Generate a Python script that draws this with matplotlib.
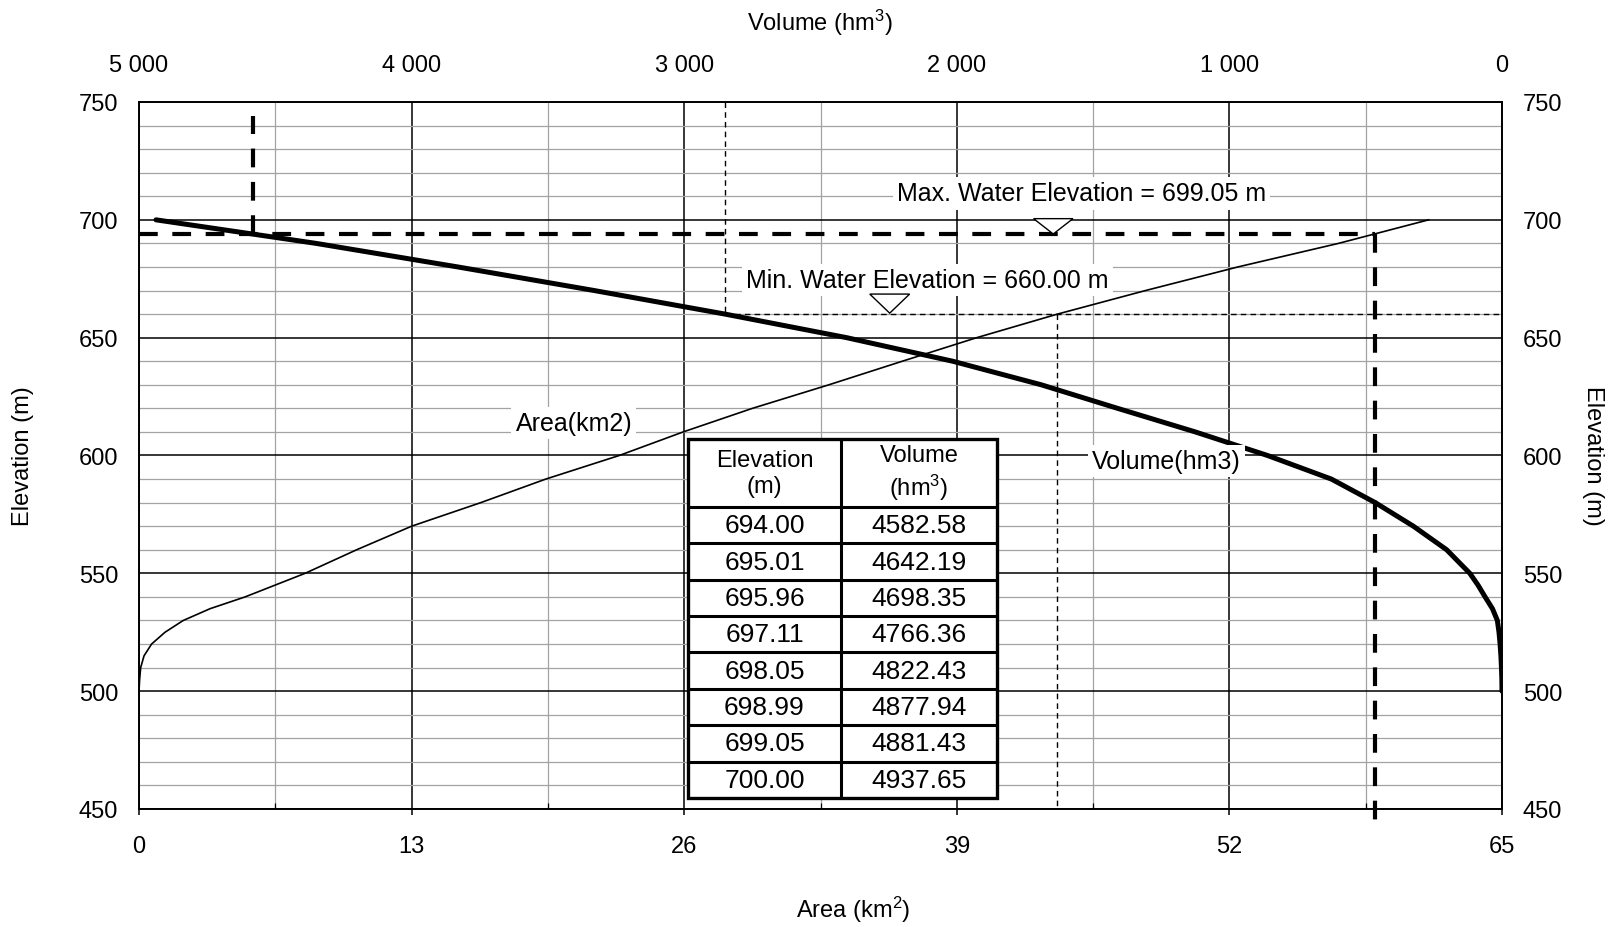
import numpy as np
import matplotlib
matplotlib.use("Agg")
import matplotlib.pyplot as plt
from matplotlib.patches import Rectangle

plt.rcParams['font.family'] = ['Liberation Sans', 'DejaVu Sans']
plt.rcParams['mathtext.fontset'] = 'custom'
plt.rcParams['mathtext.rm'] = 'Liberation Sans'
plt.rcParams['mathtext.it'] = 'Liberation Sans'

# ---------------- data ----------------
elevation = [500, 505, 510, 515, 520, 525, 530, 535, 540, 545, 550, 560, 570, 580,
             590, 600, 610, 620, 630, 640, 650, 660, 670, 680, 690, 700]
area_km2 = [0.0, 0.03, 0.08, 0.24, 0.60, 1.24, 2.11, 3.39, 5.06, 6.49, 7.92, 10.38,
            13.0, 16.3, 19.4, 22.9, 25.95, 29.25, 32.9, 36.4, 39.95, 43.8, 48.0,
            52.4, 57.2, 61.5]
volume_hm3 = [0, 0.5, 2, 4, 7, 11, 17, 35, 62, 88, 118, 203, 325, 465, 626, 860,
              1125, 1410, 1690, 2015, 2404, 2850, 3330, 3830, 4350, 4937.65]

table_elevation = ["694.00", "695.01", "695.96", "697.11", "698.05", "698.99", "699.05", "700.00"]
table_volume = ["4582.58", "4642.19", "4698.35", "4766.36", "4822.43", "4877.94", "4881.43", "4937.65"]

area_ticks = [0, 13, 26, 39, 52, 65]
volume_ticks = [5000, 4000, 3000, 2000, 1000, 0]

max_level_label = "Max. Water Elevation = 699.05 m"
min_level_label = "Min. Water Elevation = 660.00 m"
design_level = 694.0      # level of thick dashed guide
min_level = 660.0         # minimum operating level

# ---------------- figure ----------------
W, H = 1617, 928
fig = plt.figure(figsize=(W / 100, H / 100), dpi=100)
ax = fig.add_axes([139 / W, (H - 810) / H, 1363 / W, 707 / H])

ax.set_xlim(0, 65)
ax.set_ylim(450, 750)
ax.set_xticks(area_ticks)
ax.set_xticks(np.arange(0, 65.01, 6.5), minor=True)
ax.set_yticks(np.arange(450, 751, 50))
ax.set_yticks(np.arange(450, 751, 10), minor=True)
ax.grid(which='major', color='black', lw=1.1)
ax.grid(which='minor', color='#a3a3a3', lw=0.9)
ax.set_axisbelow(True)
for s in ax.spines.values():
    s.set_color('black')
    s.set_linewidth(1.4)

ax.tick_params(axis='x', which='major', direction='out', length=4.5, width=1.1,
               labelsize=17, pad=14)
ax.tick_params(axis='x', which='minor', direction='in', length=4, width=0.9,
               bottom=True, top=False)
ax.tick_params(axis='y', which='major', length=0, labelsize=17, pad=15,
               labelleft=True, labelright=True, left=True, right=True)
ax.tick_params(axis='y', which='minor', length=0)

# area curve
ax.plot(area_km2, elevation, color='black', lw=1.2, zorder=3)

# top volume axis
ax2 = ax.twiny()
ax2.set_xlim(5000, 0)
ax2.set_xticks(volume_ticks)
ax2.set_xticklabels([f"{v:,}".replace(",", " ") for v in volume_ticks])
ax2.tick_params(axis='x', which='major', length=0, labelsize=17, pad=19)
for s in ax2.spines.values():
    s.set_visible(False)

# volume curve
ax2.plot(volume_hm3, elevation, color='black', lw=3.6, solid_capstyle='round',
         solid_joinstyle='round', zorder=4)

# guide lines
area_design = np.interp(design_level, elevation, area_km2)
vol_design = float(table_volume[0])
area_min = np.interp(min_level, elevation, area_km2)
vol_min = np.interp(min_level, elevation, volume_hm3)

thick = dict(color='black', lw=3, dashes=(4.5, 3.5), zorder=5)
thin = dict(color='black', lw=1.0, dashes=(4, 3), zorder=5)
ax.plot([0, area_design], [design_level, design_level], **thick)
ax.plot([area_design, area_design], [design_level, 445], clip_on=False, **thick)
ax2.plot([vol_design, vol_design], [design_level, 744], **thick)

ax2.plot([vol_min, vol_min], [750, min_level], **thin)
ax2.plot([vol_min, 0], [min_level, min_level], **thin)
ax.plot([area_min, area_min], [min_level, 450], **thin)

# annotations
box = dict(facecolor='white', edgecolor='none', pad=3)
ax2.text(44.95, 711.2, max_level_label, transform=ax.transData, fontsize=18,
         ha='center', va='center', bbox=box, zorder=8)
ax2.text(37.6, 674.5, min_level_label, transform=ax.transData, fontsize=18,
         ha='center', va='center', bbox=box, zorder=8)
ax2.text(20.74, 613.8, "Area(km2)", transform=ax.transData, fontsize=18,
         ha='center', va='center', bbox=box, zorder=8)
ax2.text(49.0, 597.6, "Volume(hm3)", transform=ax.transData, fontsize=18,
         ha='center', va='center', bbox=box, zorder=8)

# water level triangles
tri_kw = dict(facecolor='white', edgecolor='black', lw=1.0, zorder=9)
ax2.fill([42.66, 44.54, 43.6], [700.5, 700.5, design_level], transform=ax.transData, **tri_kw)
ax2.fill([34.85, 36.75, 35.8], [668.5, 668.5, min_level + 0.4], transform=ax.transData, **tri_kw)

# table
tx0, tx1, txm = 0.4028, 0.6295, 0.5150
ty_top, ty_head, ty_bot = 0.5233, 0.4272, 0.0156
tr = ax.transAxes
ax2.add_patch(Rectangle((tx0, ty_bot), tx1 - tx0, ty_top - ty_bot, transform=tr,
                        facecolor='white', edgecolor='black', lw=2.4, zorder=10))
lkw = dict(color='black', lw=2.2, transform=tr, zorder=11, solid_capstyle='butt')
ax2.plot([txm, txm], [ty_bot, ty_top], **lkw)
n = len(table_elevation)
rh = (ty_head - ty_bot) / n
for i in range(n):
    y = ty_head - i * rh
    ax2.plot([tx0, tx1], [y, y], **lkw)
    yc = y - rh / 2
    ax2.text((tx0 + txm) / 2, yc, table_elevation[i], transform=tr, fontsize=19,
             ha='center', va='center', zorder=12)
    ax2.text((txm + tx1) / 2, yc, table_volume[i], transform=tr, fontsize=19,
             ha='center', va='center', zorder=12)
ax2.text((tx0 + txm) / 2, (ty_top + ty_head) / 2, "Elevation\n(m)", transform=tr,
         fontsize=17, ha='center', va='center', zorder=12, linespacing=1.25)
ax2.text((txm + tx1) / 2, (ty_top + ty_head) / 2, "Volume\n(hm$^3$)", transform=tr,
         fontsize=17, ha='center', va='center', zorder=12, linespacing=1.25)

# axis titles
fig.text(820 / W, 1 - 23 / H, "Volume (hm$^3$)", fontsize=17, ha='center', va='center')
fig.text(853 / W, 1 - 910 / H, "Area (km$^2$)", fontsize=17, ha='center', va='center')
fig.text(23 / W, 1 - 456 / H, "Elevation (m)", fontsize=17, ha='center', va='center',
         rotation=90)
fig.text(1593 / W, 1 - 456 / H, "Elevation (m)", fontsize=17, ha='center', va='center',
         rotation=-90)

fig.savefig("out.png", dpi=100, facecolor='white')
